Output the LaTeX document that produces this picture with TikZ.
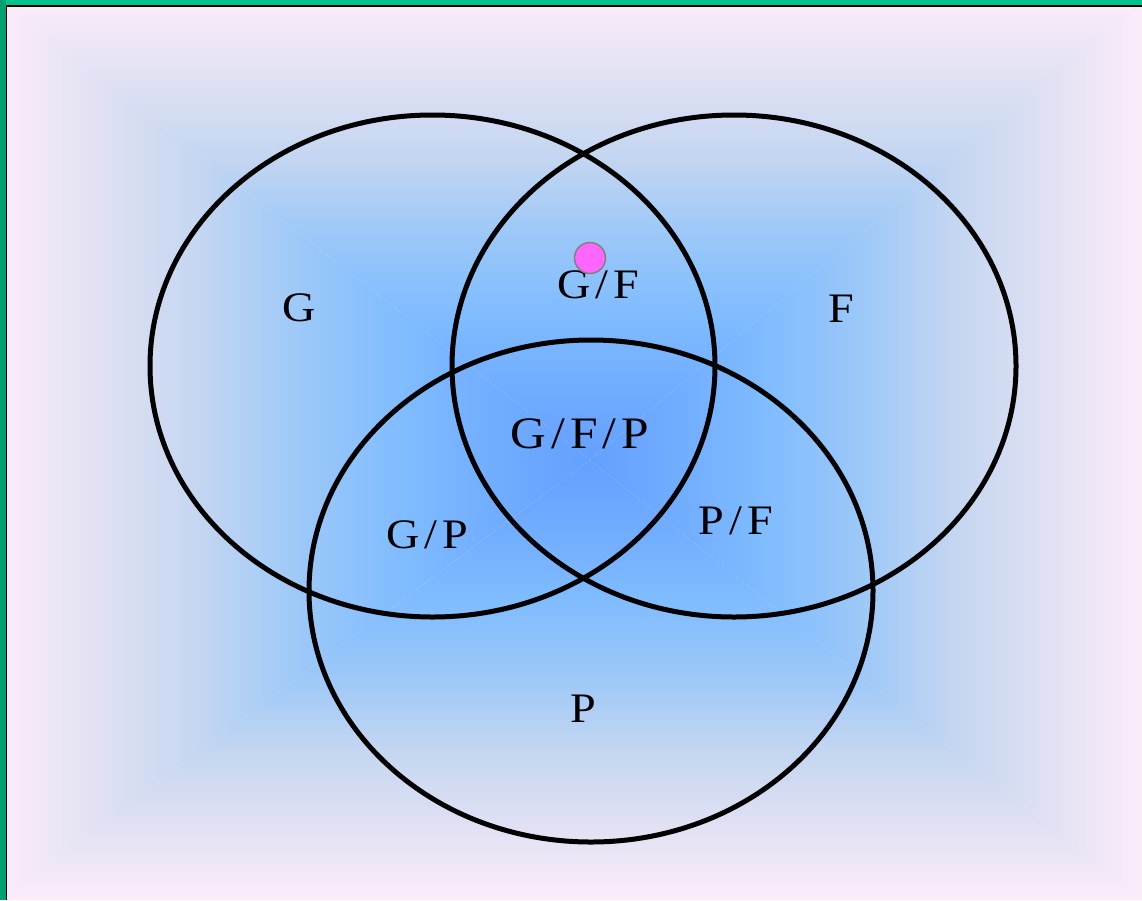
\documentclass[tikz,border=0pt]{standalone}
\usepackage{fontspec}
\setmainfont[FakeStretch=1.1]{Liberation Serif}
\definecolor{framegreen}{RGB}{0,196,142}
\definecolor{framedark}{RGB}{0,160,112}
\definecolor{edgepink}{RGB}{252,236,250}
\definecolor{fadeA}{RGB}{224,225,243}
\definecolor{fadeB}{RGB}{196,214,241}
\definecolor{fadeC}{RGB}{156,200,248}
\definecolor{fadeD}{RGB}{128,188,255}
\definecolor{fadeE}{RGB}{112,172,255}
\definecolor{vennmid}{RGB}{100,160,255}
\definecolor{dotpink}{RGB}{255,102,255}
\pgfdeclareverticalshading{bgfade}{100bp}{color(0bp)=(vennmid); color(25bp)=(vennmid);
  color(32.5bp)=(fadeE); color(41bp)=(fadeD); color(49.5bp)=(fadeC);
  color(58bp)=(fadeB); color(66.5bp)=(fadeA); color(75bp)=(edgepink); color(100bp)=(edgepink)}
\tikzset{
  venn/.style={line width=5pt},
  setlabel/.style={anchor=base, inner sep=0pt, font=\fontsize{42}{42}\selectfont},
}
\newcommand{\slsh}{\kern5pt/\kern5pt}

\begin{document}
\begin{tikzpicture}[x=1pt, y=-1pt]
  \useasboundingbox (0,0) rectangle (1142,900);

  %% Background fade (pyramid, centre at the triple overlap)
  \coordinate (mid) at (590,460);
  \shade[shading=bgfade] (0,0) -- (1142,0) -- (mid) -- cycle;
  \shade[shading=bgfade, shading angle=180] (0,900) -- (1142,900) -- (mid) -- cycle;
  \shade[shading=bgfade, shading angle=90] (0,0) -- (0,900) -- (mid) -- cycle;
  \shade[shading=bgfade, shading angle=-90] (1142,0) -- (1142,900) -- (mid) -- cycle;

  %% Frame
  \fill[framegreen] (0,0) rectangle (1142,5);
  \fill[framedark] (0,0) rectangle (6,900);
  \draw[line width=1.5pt] (6.5,900) -- (6.5,6) -- (1142,6);

  %% Three sets
  \draw[venn] (432.5,366) ellipse [x radius=282.5pt, y radius=251pt];
  \draw[venn] (734,366) ellipse [x radius=282pt, y radius=251pt];
  \draw[venn] (591,591) ellipse [x radius=282pt, y radius=251pt];

  %% Region labels
  \node[setlabel] (g)   at (299,321) {G};
  \node[setlabel] (f)   at (841,322) {F};
  \node[setlabel] (gf)  at (598,298) {G\slsh F};
  \node[setlabel, font=\fontsize{45}{45}\selectfont] (gfp) at (580,448) {G\slsh F\slsh P};
  \node[setlabel] (gp)  at (427,548) {G\slsh P};
  \node[setlabel] (pf)  at (736,534) {P\slsh F};
  \node[setlabel] (p)   at (583,722) {P};

  %% Marker dot
  \filldraw[fill=dotpink, draw=gray, line width=1.5pt] (590,258) circle (15.5pt);
\end{tikzpicture}
\end{document}
